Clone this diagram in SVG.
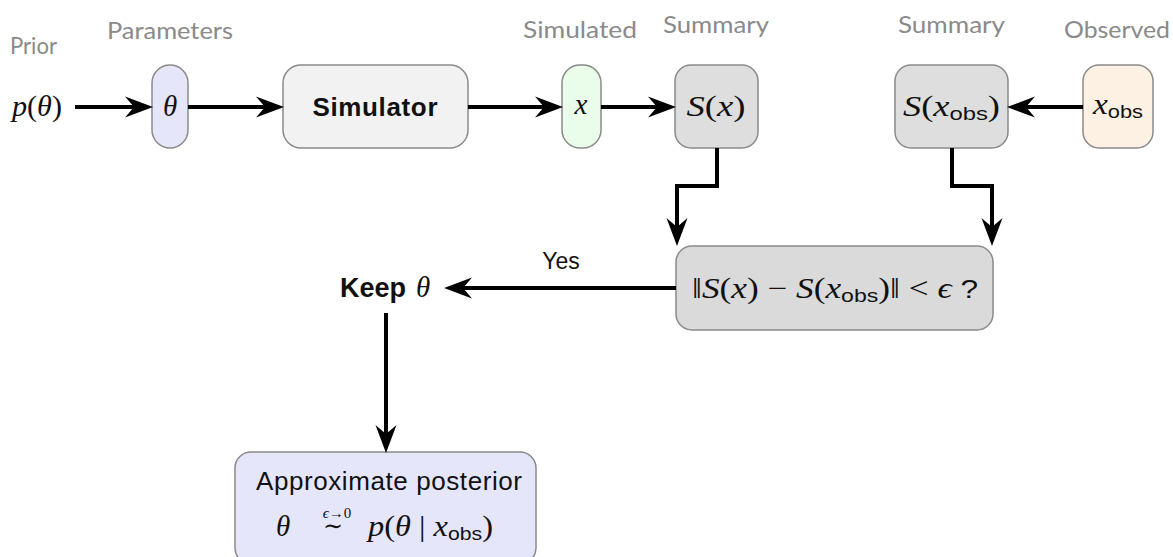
<svg xmlns="http://www.w3.org/2000/svg" width="1173" height="557" viewBox="0 0 1173 557">
<style>
.lbl{font-family:Lato,"Open Sans",sans-serif;font-size:24px;fill:#8a8a8a;text-anchor:middle}
.m{font-family:"Liberation Serif","DejaVu Serif",serif;font-size:29px;fill:#111}
.i{font-style:italic}
.sub{font-family:"Liberation Sans",sans-serif;font-size:19px;font-style:normal}
.sf{font-family:"Liberation Sans",sans-serif;fill:#111}
.node{stroke:#8a8a8a;stroke-width:1.5}
.conn{fill:none;stroke:#000;stroke-width:4}
</style>
<defs>
<marker id="ah" viewBox="-10 -12 30 24" refX="0" refY="0" markerWidth="30" markerHeight="24" markerUnits="userSpaceOnUse" orient="auto">
<path d="M19,0 L-9,-10.5 L0,0 L-9,10.5 Z" fill="#000"/>
</marker>
</defs>
<rect width="1173" height="557" fill="#fff"/>

<g id="labels">
<text class="lbl" x="33.5" y="54" textLength="47" lengthAdjust="spacingAndGlyphs">Prior</text>
<text class="lbl" x="170" y="39" textLength="126" lengthAdjust="spacingAndGlyphs">Parameters</text>
<text class="lbl" x="580" y="38" textLength="114" lengthAdjust="spacingAndGlyphs">Simulated</text>
<text class="lbl" x="716" y="33" textLength="106" lengthAdjust="spacingAndGlyphs">Summary</text>
<text class="lbl" x="951.5" y="33" textLength="107" lengthAdjust="spacingAndGlyphs">Summary</text>
<text class="lbl" x="1117" y="38" textLength="106" lengthAdjust="spacingAndGlyphs">Observed</text>
</g>

<g id="prior">
<text class="m" x="37" y="116" text-anchor="middle" textLength="50" lengthAdjust="spacingAndGlyphs"><tspan class="i">p</tspan>(<tspan class="i">θ</tspan>)</text>
</g>

<g id="theta">
<rect class="node" x="152" y="65" width="36" height="83" rx="18" fill="#e6e6fb"/>
<text class="m i" x="170" y="116" text-anchor="middle">θ</text>
</g>

<g id="simulator">
<rect class="node" x="283" y="65" width="185" height="83" rx="18" fill="#f2f2f2"/>
<text class="sf" x="375" y="116" text-anchor="middle" font-size="26" font-weight="bold" textLength="125">Simulator</text>
</g>

<g id="x">
<rect class="node" x="562" y="65" width="39" height="83" rx="18" fill="#eafcea"/>
<text class="m i" x="581" y="114" text-anchor="middle">x</text>
</g>

<g id="sx">
<rect class="node" x="675" y="65" width="83" height="83" rx="16" fill="#dedede"/>
<text class="m" x="716" y="116" text-anchor="middle" textLength="59" lengthAdjust="spacingAndGlyphs"><tspan class="i">S</tspan>(<tspan class="i">x</tspan>)</text>
</g>

<g id="sxobs">
<rect class="node" x="895" y="65" width="113" height="83" rx="16" fill="#dedede"/>
<text class="m" x="951.5" y="116" text-anchor="middle" textLength="97" lengthAdjust="spacingAndGlyphs"><tspan class="i">S</tspan>(<tspan class="i">x</tspan><tspan class="sub" dy="4">obs</tspan><tspan dy="-4">)</tspan></text>
</g>

<g id="xobs">
<rect class="node" x="1083" y="65" width="70" height="83" rx="16" fill="#fdf1e3"/>
<text class="m" x="1118" y="114" text-anchor="middle" textLength="50" lengthAdjust="spacingAndGlyphs"><tspan class="i">x</tspan><tspan class="sub" dy="4">obs</tspan></text>
</g>

<g id="decision">
<rect class="node" x="676" y="246" width="317" height="84" rx="16" fill="#dadada"/>
<text class="m" x="835" y="298" text-anchor="middle" textLength="286" lengthAdjust="spacingAndGlyphs">‖<tspan class="i">S</tspan>(<tspan class="i">x</tspan>) − <tspan class="i">S</tspan>(<tspan class="i">x</tspan><tspan class="sub" dy="4">obs</tspan><tspan dy="-4">)‖ &lt; </tspan><tspan class="i">ϵ</tspan><tspan class="sf" style="font-size:26px"> ?</tspan></text>
</g>

<g id="keep">
<text class="sf" x="340" y="297" font-size="27" font-weight="bold" textLength="66">Keep</text>
<text class="m i" x="416" y="297">θ</text>
</g>

<g id="posterior">
<rect class="node" x="235" y="452" width="301" height="112" rx="16" fill="#e6e6fb"/>
<text class="sf" x="389" y="490" text-anchor="middle" font-size="26" textLength="266" lengthAdjust="spacing">Approximate posterior</text>
<text class="m i" x="283" y="536" text-anchor="middle">θ</text>
<text class="m" x="337" y="518" text-anchor="middle" style="font-size:15px"><tspan class="i">ϵ</tspan>→0</text>
<text class="m" x="333" y="534" text-anchor="middle" style="font-size:24px">∼</text>
<text class="m" x="430.5" y="536" text-anchor="middle" textLength="125" lengthAdjust="spacingAndGlyphs"><tspan class="i">p</tspan>(<tspan class="i">θ</tspan> | <tspan class="i">x</tspan><tspan class="sub" dy="4">obs</tspan><tspan dy="-4">)</tspan></text>
</g>

<g id="connectors">
<path class="conn" d="M75,107 H134" marker-end="url(#ah)"/>
<path class="conn" d="M188,107 H265" marker-end="url(#ah)"/>
<path class="conn" d="M468,107 H544" marker-end="url(#ah)"/>
<path class="conn" d="M601,107 H657" marker-end="url(#ah)"/>
<path class="conn" d="M1083,107 H1026" marker-end="url(#ah)"/>
<path class="conn" d="M717,148 V186 H677 V227" marker-end="url(#ah)"/>
<path class="conn" d="M952,148 V186 H992 V227" marker-end="url(#ah)"/>
<path class="conn" d="M676,288 H463" marker-end="url(#ah)"/>
<path class="conn" d="M386,313 V434" marker-end="url(#ah)"/>
<text class="sf" x="561" y="269" text-anchor="middle" font-size="23">Yes</text>
</g>
</svg>
